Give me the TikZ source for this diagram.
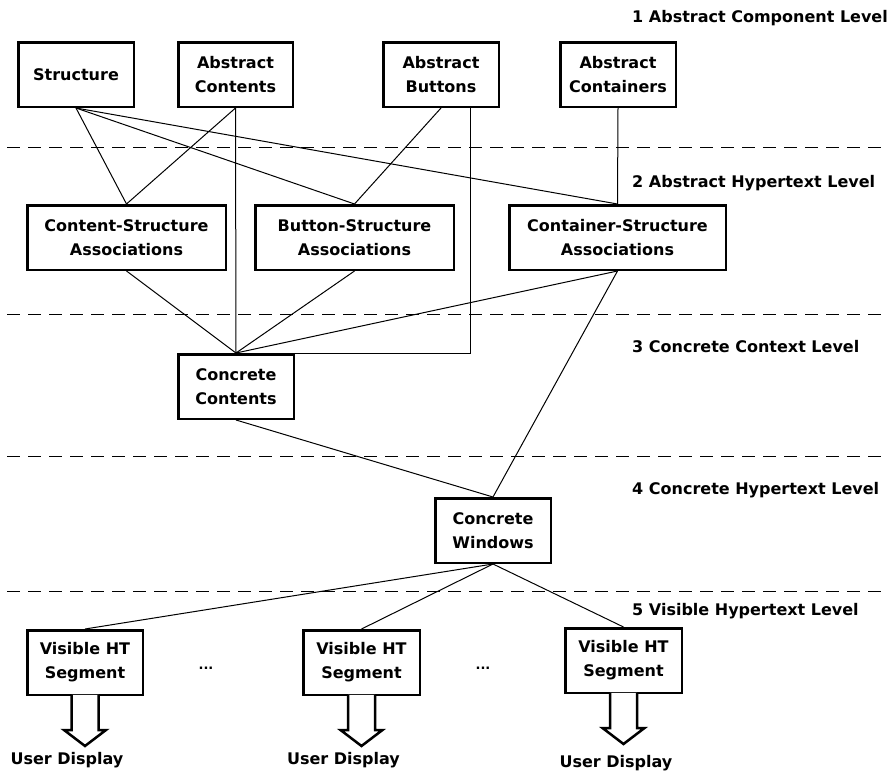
\documentclass[tikz,border=0pt]{standalone}
\usepackage{fontspec}
\setmainfont{DejaVu Sans}
\usetikzlibrary{calc}

\tikzset{
  txt/.style={font=\fontsize{16}{24}\selectfont\bfseries},
  box/.style={txt, draw, line width=2.5pt, fill=white, align=center,
    inner sep=0pt, minimum height=64.5pt},
  link/.style={line width=1pt},
  levelsep/.style={line width=1pt, dash pattern=on 13pt off 8pt},
  levellabel/.style={txt, anchor=base west, inner sep=0pt},
  outarrow/.style={line width=2.5pt, fill=white, line join=miter},
  outlabel/.style={txt, anchor=base, inner sep=0pt}
}

\begin{document}
\begin{tikzpicture}[x=1pt,y=-1pt]
\useasboundingbox (0,0) rectangle (889,771);

% level separators
\foreach \yy in {147,314,456,591}
  \draw[levelsep] (7,\yy) -- (889,\yy);

% level labels
\node[levellabel] (l1) at (632,23)  {1 Abstract Component Level};
\node[levellabel] (l2) at (632,187) {2 Abstract Hypertext Level};
\node[levellabel] (l3) at (632,352) {3 Concrete Context Level};
\node[levellabel] (l4) at (632,494) {4 Concrete Hypertext Level};
\node[levellabel] (l5) at (632,615) {5 Visible Hypertext Level};

% level 1: abstract components
\node[box, minimum width=115.5pt] (struct) at (76,74.5)    {Structure};
\node[box, minimum width=114.5pt] (acont)  at (235.5,74.5) {Abstract\\Contents};
\node[box, minimum width=115.5pt] (abut)   at (441,74.5)   {Abstract\\Buttons};
\node[box, minimum width=115.5pt] (acnt)   at (618,74.5)   {Abstract\\Containers};

% level 2: associations
\node[box, minimum width=198.5pt] (csa) at (126.5,237.5) {Content-Structure\\Associations};
\node[box, minimum width=198.5pt] (bsa) at (354.5,237.5) {Button-Structure\\Associations};
\node[box, minimum width=216.5pt] (tsa) at (617.5,237.5) {Container-Structure\\Associations};

% level 3 and 4
\node[box, minimum width=115.5pt] (ccont) at (236,386.5) {Concrete\\Contents};
\node[box, minimum width=115.5pt] (cwin)  at (493,530.5) {Concrete\\Windows};

% level 5: visible segments
\node[box, minimum width=115.5pt] (v1) at (85,662.5)    {Visible HT\\Segment};
\node[box, minimum width=116.5pt] (v2) at (361.5,662.5) {Visible HT\\Segment};
\node[box, minimum width=116.5pt] (v3) at (623.5,660.5) {Visible HT\\Segment};

\node[txt, font=\fontsize{13}{16}\selectfont\bfseries, anchor=base] (dots1) at (206,669) {...};
\node[txt, font=\fontsize{13}{16}\selectfont\bfseries, anchor=base] (dots2) at (483,669) {...};

% connectors
\draw[link] (struct.south) -- (csa.north);
\draw[link] (struct.south) -- (bsa.north);
\draw[link] (struct.south) -- (tsa.north);
\draw[link] (acont.south) -- (csa.north);
\draw[link] (acont.south) -- (ccont.north);
\draw[link] (abut.south) -- (bsa.north);
\draw[link] ($(abut.south west)!0.75!(abut.south east)$) |- (ccont.north);
\draw[link] (acnt.south) -- (tsa.north);
\draw[link] (csa.south) -- (ccont.north);
\draw[link] (bsa.south) -- (ccont.north);
\draw[link] (tsa.south) -- (ccont.north);
\draw[link] (tsa.south) -- (cwin.north);
\draw[link] (ccont.south) -- (cwin.north);
\draw[link] (cwin.south) -- (v1.north);
\draw[link] (cwin.south) -- (v2.north);
\draw[link] (cwin.south) -- (v3.north);

% hollow output arrows
\foreach \v in {v1,v2,v3}
  \draw[outarrow] ($(\v.south)+(-13.5,-1.2)$) -- ++(0,35.2) -- ++(-7.5,0)
    -- ++(21,16) -- ++(21,-16) -- ++(-7.5,0) -- ++(0,-35.2);

\node[outlabel] (u1) at (67,764)    {User Display};
\node[outlabel] (u2) at (343.5,764) {User Display};
\node[outlabel] (u3) at (616,767)   {User Display};
\end{tikzpicture}
\end{document}
